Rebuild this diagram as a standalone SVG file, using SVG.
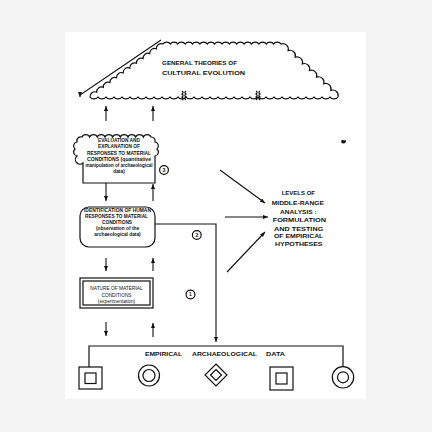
<svg xmlns="http://www.w3.org/2000/svg" width="432" height="432" viewBox="0 0 432 432">
<defs>
<marker id="ah" markerUnits="userSpaceOnUse" markerWidth="6" markerHeight="5" refX="5" refY="2" orient="auto">
<path d="M0,0 L5,2 L0,4 Z" fill="#111"/>
</marker>
<style>
.ln{fill:none;stroke:#111;stroke-width:1.2}
.ar{fill:none;stroke:#111;stroke-width:1.1;marker-end:url(#ah)}
.sh{fill:#fff;stroke:#111;stroke-width:1.2}
.t{font-family:"Liberation Sans",Arial,sans-serif;fill:#111}
.b{font-weight:bold}
.s{font-size:4.8px;text-anchor:middle}
.h{font-size:5.8px;font-weight:bold}
.n{font-size:5px;font-weight:bold;text-anchor:middle}
</style>
</defs>
<rect x="0" y="0" width="432" height="432" fill="#f3f3f3"/>
<rect x="65" y="32" width="301" height="367" fill="#fff"/>

<g id="general-theories">
<path class="sh" d="M163,44 a4,3.2 0 0 1 7.375,0 a4,3.2 0 0 1 7.375,0 a4,3.2 0 0 1 7.375,0 a4,3.2 0 0 1 7.375,0 a4,3.2 0 0 1 7.375,0 a4,3.2 0 0 1 7.375,0 a4,3.2 0 0 1 7.375,0 a4,3.2 0 0 1 7.375,0 a4,3.2 0 0 1 7.375,0 a4,3.2 0 0 1 7.375,0 a4,3.2 0 0 1 7.375,0 a4,3.2 0 0 1 7.375,0 a4,3.2 0 0 1 7.375,0 a4,3.2 0 0 1 7.375,0 a4,3.2 0 0 1 7.375,0 a4,3.2 0 0 1 7.375,0
a5.5,5.5 0 0 1 7.125,6.625 a5.5,5.5 0 0 1 7.125,6.625 a5.5,5.5 0 0 1 7.125,6.625 a5.5,5.5 0 0 1 7.125,6.625 a5.5,5.5 0 0 1 7.125,6.625 a5.5,5.5 0 0 1 7.125,6.625 a5.5,5.5 0 0 1 7.125,6.625 a5.5,5.5 0 0 1 7.125,6.625
a4.5,3.5 0 0 1 -8,0 a4.5,3.5 0 0 1 -8,0 a4.5,3.5 0 0 1 -8,0 a4.5,3.5 0 0 1 -8,0 a4.5,3.5 0 0 1 -8,0 a4.5,3.5 0 0 1 -8,0 a4.5,3.5 0 0 1 -8,0 a4.5,3.5 0 0 1 -8,0 a4.5,3.5 0 0 1 -8,0 a4.5,3.5 0 0 1 -8,0 a4.5,3.5 0 0 1 -8,0 a4.5,3.5 0 0 1 -8,0 a4.5,3.5 0 0 1 -8,0 a4.5,3.5 0 0 1 -8,0 a4.5,3.5 0 0 1 -8,0 a4.5,3.5 0 0 1 -8,0 a4.5,3.5 0 0 1 -8,0 a4.5,3.5 0 0 1 -8,0 a4.5,3.5 0 0 1 -8,0 a4.5,3.5 0 0 1 -8,0 a4.5,3.5 0 0 1 -8,0 a4.5,3.5 0 0 1 -8,0 a4.5,3.5 0 0 1 -8,0 a4.5,3.5 0 0 1 -8,0 a4.5,3.5 0 0 1 -8,0 a4.5,3.5 0 0 1 -8,0 a4.5,3.5 0 0 1 -8,0 a4.5,3.5 0 0 1 -8,0 a4.5,3.5 0 0 1 -8,0 a4.5,3.5 0 0 1 -8,0 a4.5,3.5 0 0 1 -8,0
a4.8,4.8 0 0 1 6.636,-4.818 a4.8,4.8 0 0 1 6.636,-4.818 a4.8,4.8 0 0 1 6.636,-4.818 a4.8,4.8 0 0 1 6.636,-4.818 a4.8,4.8 0 0 1 6.636,-4.818 a4.8,4.8 0 0 1 6.636,-4.818 a4.8,4.8 0 0 1 6.636,-4.818 a4.8,4.8 0 0 1 6.636,-4.818 a4.8,4.8 0 0 1 6.636,-4.818 a4.8,4.8 0 0 1 6.636,-4.818 a4.8,4.8 0 0 1 6.636,-4.818 Z"/>
<path class="ln" stroke-width="0.8" d="M182,91 q2.2,1.5 0,3 q2.2,1.5 0,3 q2.2,1.5 0,3 M186,91 q-2.2,1.5 0,3 q-2.2,1.5 0,3 q-2.2,1.5 0,3"/>
<path class="ln" stroke-width="0.8" d="M256,91 q2.2,1.5 0,3 q2.2,1.5 0,3 q2.2,1.5 0,3 M260,91 q-2.2,1.5 0,3 q-2.2,1.5 0,3 q-2.2,1.5 0,3"/>
<text class="t h" x="162" y="65.3" textLength="75" lengthAdjust="spacingAndGlyphs">GENERAL THEORIES OF</text>
<text class="t h" x="162" y="74.8" textLength="83" lengthAdjust="spacingAndGlyphs">CULTURAL EVOLUTION</text>
</g>

<g id="evaluation">
<path class="sh" d="M83,183 L83,163 a4,4 0 0 1 -6,-7 a4,4 0 0 1 -2,-7 a4,4 0 0 1 2,-7 a4,4 0 0 1 5,-5 a4,3.2 0 0 1 7.667,0 a4,3.2 0 0 1 7.667,0 a4,3.2 0 0 1 7.667,0 a4,3.2 0 0 1 7.667,0 a4,3.2 0 0 1 7.667,0 a4,3.2 0 0 1 7.667,0 a4,3.2 0 0 1 7.667,0 a4,3.2 0 0 1 7.667,0 a4,3.2 0 0 1 7.667,0 a4,4 0 0 1 4,5 a4,4 0 0 1 2,7 a4,4 0 0 1 -2,7 L155,183 Z"/>
<g class="t b s">
<text x="119" y="142.4">EVALUATION AND</text>
<text x="119" y="148.4">EXPLANATION OF</text>
<text x="119" y="155" textLength="64" lengthAdjust="spacingAndGlyphs">RESPONSES TO MATERIAL</text>
<text x="119" y="161" textLength="64" lengthAdjust="spacingAndGlyphs">CONDITIONS (quantitative</text>
<text x="119" y="166.8" textLength="67" lengthAdjust="spacingAndGlyphs">manipulation of archaeological</text>
<text x="119" y="172.8">data)</text>
</g>
</g>

<g id="identification">
<rect class="sh" x="80" y="207" width="75" height="40" rx="9"/>
<g class="t b s">
<text x="117.5" y="211.8" textLength="67" lengthAdjust="spacingAndGlyphs">IDENTIFICATION OF HUMAN</text>
<text x="116.5" y="217.6" textLength="63" lengthAdjust="spacingAndGlyphs">RESPONSES TO MATERIAL</text>
<text x="117" y="224">CONDITIONS</text>
<text x="117.5" y="230">(observation of the</text>
<text x="117.5" y="236">archaeological data)</text>
</g>
</g>

<g id="nature">
<rect class="sh" x="80" y="278" width="73" height="30"/>
<rect class="ln" x="83" y="281" width="67" height="24"/>
<g class="t s">
<text x="116.5" y="290">NATURE OF MATERIAL</text>
<text x="116.5" y="296.8">CONDITIONS</text>
<text x="116.5" y="303.4">(experimentation)</text>
</g>
</g>

<g id="level-3"><circle class="ln" cx="164" cy="170" r="4.4"/><text class="t n" x="164" y="171.8">3</text></g>
<g id="level-2"><circle class="ln" cx="196.8" cy="235" r="4.4"/><text class="t n" x="196.8" y="236.8">2</text></g>
<g id="level-1"><circle class="ln" cx="190.5" cy="294.5" r="4.4"/><text class="t n" x="190.5" y="296.3">1</text></g>

<g id="middle-range">
<g class="t h">
<text x="281.7" y="195.3" textLength="33.3" lengthAdjust="spacingAndGlyphs">LEVELS OF</text>
<text x="271.7" y="204.7" textLength="52.3" lengthAdjust="spacingAndGlyphs">MIDDLE-RANGE</text>
<text x="280" y="213.7" textLength="36.7" lengthAdjust="spacingAndGlyphs">ANALYSIS :</text>
<text x="272.7" y="222" textLength="53.3" lengthAdjust="spacingAndGlyphs">FORMULATION</text>
<text x="274" y="231" textLength="49.3" lengthAdjust="spacingAndGlyphs">AND TESTING</text>
<text x="274" y="238.2" textLength="49.3" lengthAdjust="spacingAndGlyphs">OF EMPIRICAL</text>
<text x="275" y="245.5" textLength="47.5" lengthAdjust="spacingAndGlyphs">HYPOTHESES</text>
</g>
</g>

<g id="empirical-data">
<g class="t h">
<text x="145" y="356" textLength="37" lengthAdjust="spacingAndGlyphs">EMPIRICAL</text>
<text x="192" y="356" textLength="65" lengthAdjust="spacingAndGlyphs">ARCHAEOLOGICAL</text>
<text x="266" y="356" textLength="19" lengthAdjust="spacingAndGlyphs">DATA</text>
</g>
<g id="sym-square-1"><rect class="ln" x="79" y="367" width="23" height="22" stroke-width="1.5"/><rect class="ln" x="85" y="373" width="11" height="10.5" stroke-width="1.5"/></g>
<g id="sym-circle-1"><circle class="ln" cx="149" cy="375.5" r="10.5" stroke-width="1.5"/><circle class="ln" cx="149" cy="375.5" r="6" stroke-width="1.5"/></g>
<g id="sym-diamond"><path class="ln" stroke-width="1.5" d="M216,364 L227,375 L216,386 L205,375 Z M216,369.5 L221.5,375 L216,380.5 L210.5,375 Z"/></g>
<g id="sym-square-2"><rect class="ln" x="270" y="367" width="23" height="23" stroke-width="1.5"/><rect class="ln" x="276" y="373" width="11" height="11" stroke-width="1.5"/></g>
<g id="sym-circle-2"><circle class="ln" cx="343" cy="377.3" r="10.7" stroke-width="1.5"/><circle class="ln" cx="343" cy="377.3" r="5.5" stroke-width="1.5"/></g>
</g>

<g id="connectors">
<path class="ar" d="M161,40 L80,95 L80,97"/>
<line class="ar" x1="106" y1="121" x2="106" y2="106"/>
<line class="ar" x1="153" y1="121" x2="153" y2="106"/>
<line class="ar" x1="106" y1="183" x2="106" y2="201"/>
<line class="ar" x1="153" y1="201" x2="153" y2="184"/>
<line class="ar" x1="106" y1="258" x2="106" y2="271"/>
<line class="ar" x1="153" y1="271" x2="153" y2="258"/>
<line class="ar" x1="106" y1="322" x2="106" y2="336"/>
<line class="ar" x1="153" y1="337" x2="153" y2="323"/>
<path class="ar" d="M155,224 L216,224 L216,342"/>
<path class="ln" d="M89,367 L89,346 L343,346 L343,366.6"/>
<line class="ar" x1="220" y1="170" x2="265" y2="203"/>
<line class="ar" x1="225" y1="217" x2="268" y2="217"/>
<line class="ar" x1="227" y1="272" x2="265" y2="232"/>
</g>

<path d="M341,141 l1.5,-1.2 l1.5,0.6 l1.6,-0.3 l0.4,1.6 l-1,1.4 l-1.6,0.4 l-1.8,-0.6 z" fill="#111"/>
</svg>
